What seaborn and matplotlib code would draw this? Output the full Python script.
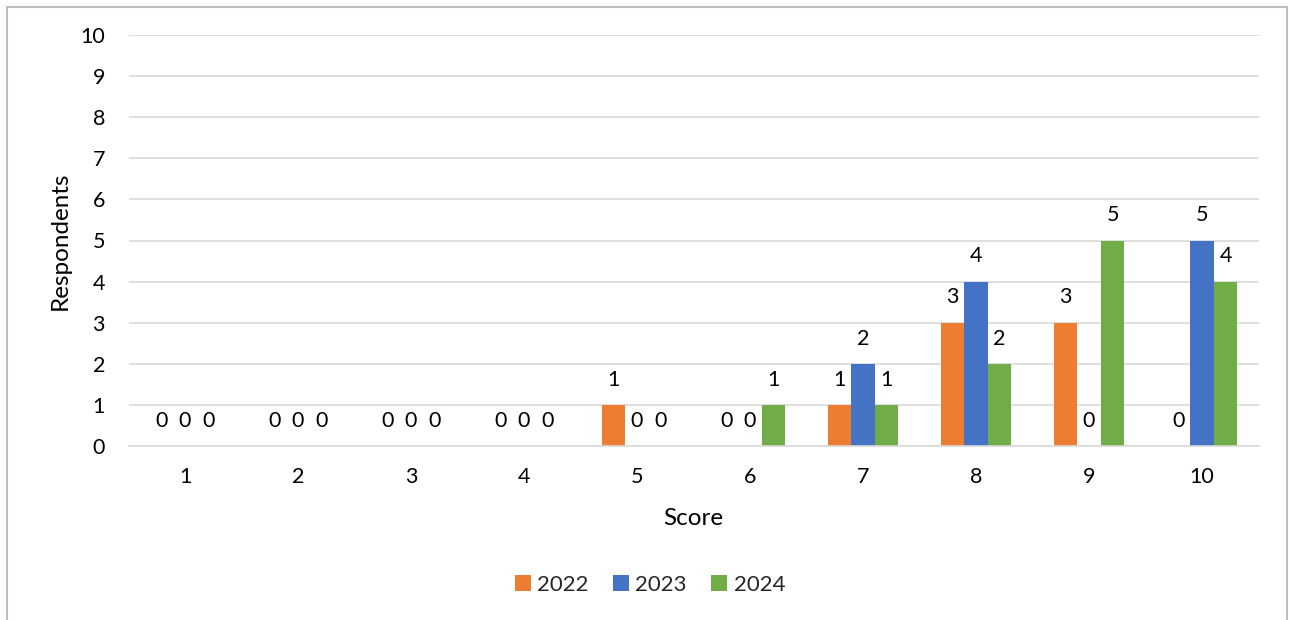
import matplotlib
matplotlib.use("Agg")
import matplotlib.pyplot as plt
from matplotlib.patches import Rectangle
import pandas as pd
import seaborn as sns

# Respondent counts per score, one list per survey year
scores = [1, 2, 3, 4, 5, 6, 7, 8, 9, 10]
years = ["2022", "2023", "2024"]
counts_2022 = [0, 0, 0, 0, 1, 0, 1, 3, 3, 0]
counts_2023 = [0, 0, 0, 0, 0, 0, 2, 4, 0, 5]
counts_2024 = [0, 0, 0, 0, 0, 1, 1, 2, 5, 4]
y_ticks = [0, 1, 2, 3, 4, 5, 6, 7, 8, 9, 10]

colors = ["#ED7D31", "#4472C4", "#70AD47"]

rows = []
for year, vals in zip(years, [counts_2022, counts_2023, counts_2024]):
    for s, v in zip(scores, vals):
        rows.append({"Score": str(s), "Year": year, "Respondents": v})
df = pd.DataFrame(rows)

sns.set_theme(style="white")
plt.rcParams["font.family"] = ["Lato", "DejaVu Sans"]
FS = 15.5

W, H = 1289, 620
fig = plt.figure(figsize=(W / 100, H / 100), dpi=100)
ax = fig.add_axes([128.5 / W, (H - 446) / H, (1258.5 - 128.5) / W, (446 - 35) / H])

sns.barplot(data=df, x="Score", y="Respondents", hue="Year",
            order=[str(s) for s in scores], hue_order=years,
            palette=colors, width=0.625, saturation=1, ax=ax,
            edgecolor="none", linewidth=0, errorbar=None)

for cont in ax.containers:
    ax.bar_label(cont, fmt="%d", padding=11, fontsize=FS, color="#000000")

ax.set_ylim(0, 10)
ax.set_xlim(-0.5, len(scores) - 0.5)
ax.set_yticks(y_ticks)
ax.yaxis.grid(True, color="#D9D9D9", linewidth=1.2)
ax.set_axisbelow(True)
for side in ["top", "right", "left"]:
    ax.spines[side].set_visible(False)
ax.spines["bottom"].set_color("#D9D9D9")
ax.spines["bottom"].set_linewidth(1.2)
ax.tick_params(axis="both", length=0, labelsize=FS, colors="#000000")
ax.tick_params(axis="x", pad=15)
ax.tick_params(axis="y", pad=17)
ax.set_xlabel("Score", fontsize=FS + 2, labelpad=15, color="#000000")
ax.set_ylabel("Respondents", fontsize=FS + 2, labelpad=7, color="#000000")

handles, labels = ax.get_legend_handles_labels()
ax.legend(handles, labels, loc="center", bbox_to_anchor=(650 / W, (H - 585) / H),
          bbox_transform=fig.transFigure, ncol=3, frameon=False, fontsize=FS + 0.5,
          handlelength=0.7, handleheight=0.7, handletextpad=0.3, columnspacing=1.1)

# Thin grey frame around the chart area
fig.patches.append(Rectangle((7 / W, -0.05), (1287 - 7) / W, 1.05 - 7 / H,
                             transform=fig.transFigure, fill=False,
                             edgecolor="#BFBFBF", linewidth=1.5))

fig.savefig("out.png", dpi=100)
